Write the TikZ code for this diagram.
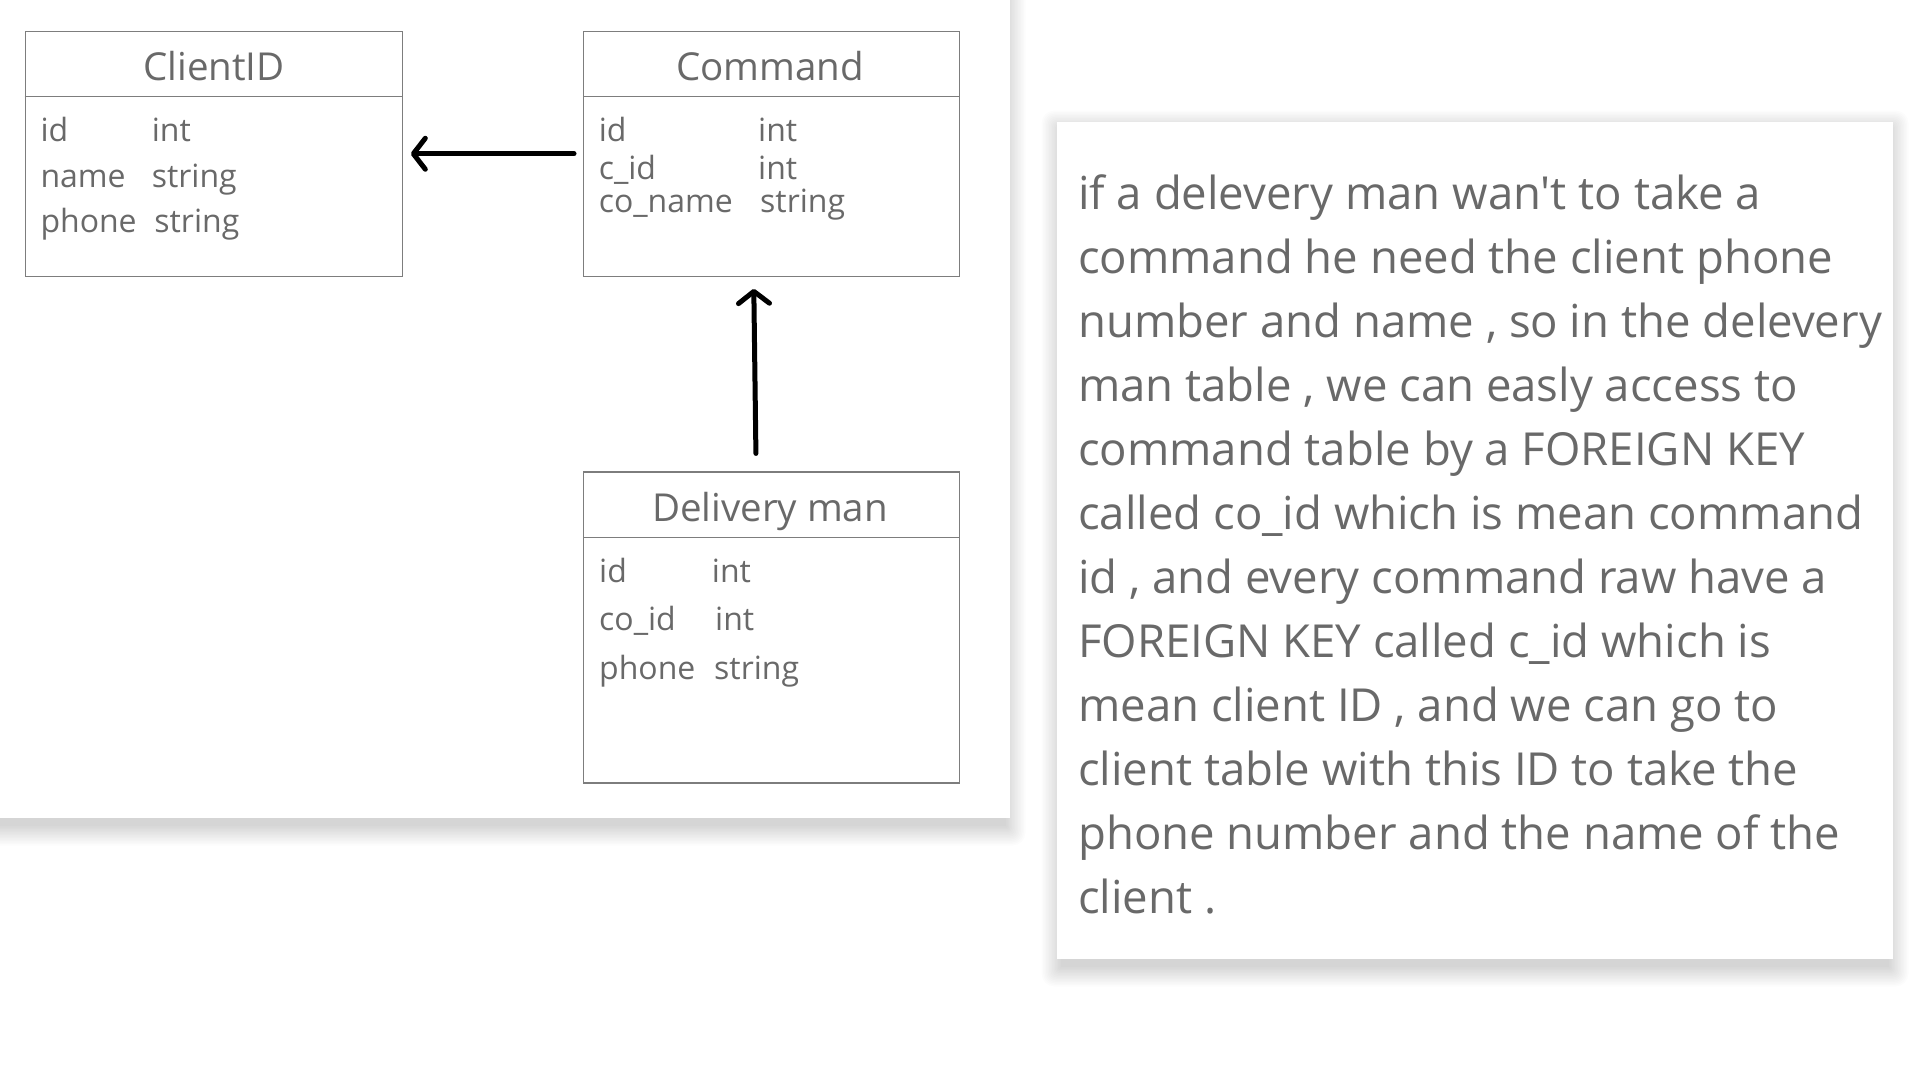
\documentclass[tikz,border=0pt]{standalone}
\usepackage{fontspec}
\setmainfont{Open Sans}[Ligatures=TeXOff]
\usetikzlibrary{arrows.meta}
\definecolor{txtgray}{RGB}{105,105,105}
\definecolor{boxgray}{RGB}{125,125,125}
\tikzset{
  tablebox/.style={draw=boxgray, line width=1.3pt, fill=white, inner sep=0pt, anchor=north west},
  divline/.style={draw=boxgray, line width=1.3pt},
  ttl/.style={text=txtgray, font=\fontsize{38.5}{46}\selectfont, inner sep=0pt, anchor=base},
  fld/.style={text=txtgray, font=\fontsize{32}{38}\selectfont, inner sep=0pt, anchor=base west},
  conn/.style={draw=black, line width=5pt, line cap=round, -{Straight Barb[length=12pt,width=31pt,round]}},
  notetext/.style={text=txtgray, font=\fontsize{45.5}{64}\selectfont, inner sep=0pt, align=left, anchor=north west},
}
\newcommand\softshadow[5]{%
  \foreach \k in {0,...,13}{%
    \fill[black, opacity=0.011, rounded corners=\k pt]
      (#1+4-\k*1.5, #2+#5-\k*1.5) rectangle (#3-4+\k*1.5, #4+#5+\k*1.5);
  }%
}
\begin{document}
\begin{tikzpicture}[x=1pt,y=-1pt]
\useasboundingbox (0,0) rectangle (1920,1080);
\fill[white] (0,0) rectangle (1920,1080);
% panels
\softshadow{-20}{-20}{1010}{818}{8}
\fill[white] (-20,-20) rectangle (1010,818);
\softshadow{1057}{122}{1893}{959}{8}
\fill[white] (1057,122) rectangle (1893,959);
% ClientID table
\node[tablebox, minimum width=377pt, minimum height=245pt] (client) at (24.5,30.6) {};
\draw[divline] (client.west |- 0,96.7) -- (client.east |- 0,96.7);
\node[ttl] (clientT) at (214,80) {ClientID};
\node[fld] (c1a) at (40.3,141.7) {id};
\node[fld] (c1b) at (151.6,141.7) {int};
\node[fld] (c2a) at (40.3,187.7) {name};
\node[fld] (c2b) at (151.6,187.7) {string};
\node[fld] (c3a) at (40.3,232) {phone};
\node[fld] (c3b) at (154.2,232) {string};
% Command table
\node[tablebox, minimum width=376pt, minimum height=245pt] (cmd) at (583,30.6) {};
\draw[divline] (cmd.west |- 0,96.7) -- (cmd.east |- 0,96.7);
\node[ttl] (cmdT) at (770,80) {Command};
\node[fld] (m1a) at (598.6,141.7) {id};
\node[fld] (m1b) at (758,141.7) {int};
\node[fld] (m2a) at (598.6,179) {c\_id};
\node[fld] (m2b) at (758,179) {int};
\node[fld] (m3a) at (598.6,212.3) {co\_name};
\node[fld] (m3b) at (760,212.3) {string};
% Delivery man table
\node[tablebox, minimum width=376pt, minimum height=311pt] (dm) at (583,471.4) {};
\draw[divline] (dm.west |- 0,537.5) -- (dm.east |- 0,537.5);
\node[ttl] (dmT) at (770,521) {Delivery man};
\node[fld] (d1a) at (599,582.8) {id};
\node[fld] (d1b) at (711.7,582.8) {int};
\node[fld] (d2a) at (599,630) {co\_id};
\node[fld] (d2b) at (715,630) {int};
\node[fld] (d3a) at (599,679) {phone};
\node[fld] (d3b) at (714,679) {string};
% connectors
\draw[conn, shorten <=9pt, shorten >=8pt] (cmd.west) -- (client.east);
\draw[conn, shorten <=18pt, shorten >=12pt] ([xshift=-15.5pt]dm.north) -- ([xshift=-18pt]cmd.south);
% note
\node[notetext] (note) at (1078,174) {if a delevery man wan't to take a\\
command he need the client phone\\
number and name , so in the delevery\\
man table , we can easly access to\\
command table by a FOREIGN KEY\\
called co\_id which is mean command\\
id , and every command raw have a\\
FOREIGN KEY called c\_id which is\\
mean client ID , and we can go to\\
client table with this ID to take the\\
phone number and the name of the\\
client .};
\end{tikzpicture}
\end{document}
